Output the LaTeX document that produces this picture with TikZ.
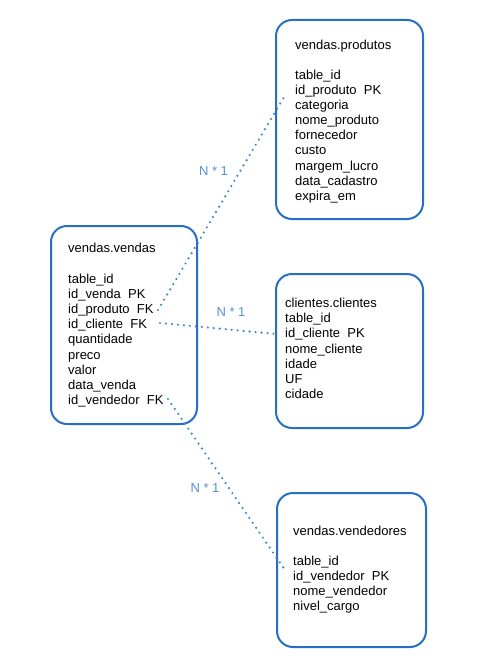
\documentclass[tikz,border=0pt]{standalone}
\usepackage{fontspec}
\setmainfont{Liberation Sans}
\definecolor{boxblue}{RGB}{38,111,196}
\definecolor{dotblue}{RGB}{62,132,206}
\definecolor{lblblue}{RGB}{86,146,208}
\tikzset{
  tbox/.style={draw=boxblue, line width=2pt, rounded corners=16pt, inner sep=0pt},
  rowtext/.style={anchor=base west, inner sep=0pt, font=\fontsize{13}{15}\selectfont, text=black},
  rel/.style={draw=dotblue, line width=2.4pt, line cap=round, dash pattern=on 0pt off 6pt},
  card/.style={font=\fontsize{13}{15}\selectfont, text=lblblue, inner sep=0pt}
}
\begin{document}
\begin{tikzpicture}[x=1pt,y=-1pt]
\useasboundingbox (0,0) rectangle (483,671);
\fill[white] (0,0) rectangle (483,671);
% boxes
\node[tbox, minimum width=146pt, minimum height=198pt] (vendas) at (124,325) {};
\node[tbox, minimum width=147pt, minimum height=199pt] (produtos) at (349.5,119.5) {};
\node[tbox, minimum width=147pt, minimum height=154pt] (clientes) at (349.5,351) {};
\node[tbox, minimum width=149pt, minimum height=154pt] (vendedores) at (351.5,570) {};
% vendas.vendas
\node[rowtext] (vt) at (68,252.5) {vendas.vendas};
\foreach \t [count=\i] in {table\_id, id\_venda~~PK, id\_produto~~FK, id\_cliente~~FK, quantidade, preco, valor, data\_venda, id\_vendedor~~FK}
  \node[rowtext] (v\i) at (68,283+15.2*\i-15.2) {\t};
% vendas.produtos
\node[rowtext] (pt) at (295,49.5) {vendas.produtos};
\foreach \t [count=\i] in {table\_id, id\_produto~~PK, categoria, nome\_produto, fornecedor, custo, margem\_lucro, data\_cadastro, expira\_em}
  \node[rowtext] (p\i) at (295,79.5+15.1*\i-15.1) {\t};
% clientes.clientes
\node[rowtext] (ct) at (285,307.5) {clientes.clientes};
\foreach \t [count=\i] in {table\_id, id\_cliente~~PK, nome\_cliente, idade, UF, cidade}
  \node[rowtext] (c\i) at (285,322.7+15.2*\i-15.2) {\t};
% vendas.vendedores
\node[rowtext] (dt) at (293,535.5) {vendas.vendedores};
\foreach \t [count=\i] in {table\_id, id\_vendedor~~PK, nome\_vendedor, nivel\_cargo}
  \node[rowtext] (d\i) at (293,565.5+15.1*\i-15.1) {\t};
% connector ends
\coordinate (a1) at (158,310);
\coordinate (b1) at (284,97);
\coordinate (a2) at (160,323);
\coordinate (b2) at (276,334);
\coordinate (a3) at (168,399);
\coordinate (b3) at (285,570);
\draw[rel] (a1) -- (b1);
\draw[rel] (a2) -- (b2);
\draw[rel] (a3) -- (b3);
% cardinality labels
\node[card] (l1) at (213.5,171.5) {N * 1};
\node[card] (l2) at (231,312) {N * 1};
\node[card] (l3) at (205,488.5) {N * 1};
\end{tikzpicture}
\end{document}
